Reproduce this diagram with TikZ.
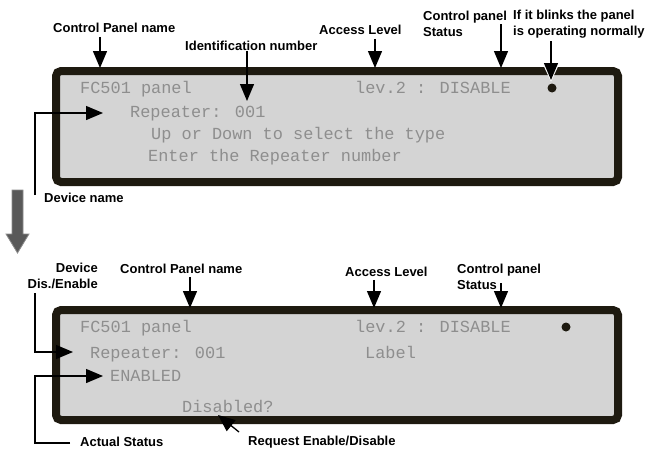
\documentclass[tikz,border=0pt]{standalone}
\usepackage{fontspec}
\setmainfont{Liberation Sans}
\newfontfamily\lcdfont{Liberation Mono}
\usetikzlibrary{arrows.meta}

\definecolor{frame}{HTML}{1E1A10}
\definecolor{screen}{HTML}{D4D4D4}
\definecolor{lcdtxt}{HTML}{8E8E8E}

\tikzset{
  lbl/.style={font=\fontsize{13}{16}\selectfont\bfseries, inner sep=0pt, anchor=west, align=left},
  lcd/.style={font=\lcdfont\fontsize{16.9}{18}\selectfont, text=lcdtxt, inner sep=0pt, anchor=base west},
  callout/.style={line width=1.3pt, -{Triangle[width=14pt,length=17pt]}},
  screenbox/.style={line width=8pt, rounded corners=5pt, draw=frame, fill=screen},
}

\begin{document}
\begin{tikzpicture}[x=1pt,y=-1pt]
    \useasboundingbox (0,0) rectangle (650,450);

    % Premier ecran
    \draw[screenbox] (56,71) rectangle (618,182);
    \node[lcd] (n1) at (80,93.5) {FC501 panel};
    \node[lcd] (lv1) at (355,93.5) {lev.2 : DISABLE};
    \node[lcd] (rp1) at (130,117.5) {Repeater: 001};
    \node[lcd] (up1) at (151,139.5) {Up or Down to select the type};
    \node[lcd] (en1) at (148,161.5) {Enter the Repeater number};
    \fill[frame] (552,88) circle (4.5);

    % Legendes du premier ecran
    \node[lbl] (cpn) at (53,28) {Control Panel name};
    \node[lbl] (idn) at (185,46) {Identification number};
    \node[lbl] (acc) at (319,30) {Access Level};
    \node[lbl] (cps) at (423,24) {Control panel\\Status};
    \node[lbl] (blk) at (513,24) {If it blinks the panel\\is operating normally};
    \node[lbl] (dev) at (44,198) {Device name};

    \coordinate (t1) at (100,68);
    \coordinate (t2) at (247,101);
    \coordinate (t3) at (375,68);
    \coordinate (t4) at (501,68);
    \coordinate (t5) at (551,80);
    \coordinate (t6) at (103,113);
    \coordinate (d0) at (35,195);

    \draw[callout, shorten <=4pt] (cpn.south -| t1) -- (t1);
    \draw[callout] (idn.south -| t2) -- (t2);
    \draw[callout, shorten <=4pt] (acc.south -| t3) -- (t3);
    \draw[callout] (cps.center -| t4) -- (t4);
    \draw[white, line width=4pt, -{Triangle[width=18pt,length=21pt]}, shorten <=3pt] (blk.south -| t5) -- ([yshift=-2pt]t5);
    \draw[callout, shorten <=3pt] (blk.south -| t5) -- (t5);
    \draw[callout] (d0) |- (t6);

    % Grosse fleche grise
    \filldraw[fill=black!65, draw=black!45, line width=0.8pt]
      (12,190) -- (23,190) -- (23,234) -- (29,234) -- (17.5,253) -- (6,234) -- (12,234) -- cycle;

    % Second ecran
    \draw[screenbox] (56,310) rectangle (618,420);
    \node[lcd] (n2) at (80,332.5) {FC501 panel};
    \node[lcd] (lv2) at (355,332.5) {lev.2 : DISABLE};
    \node[lcd] (rp2) at (90,358.5) {Repeater: 001};
    \node[lcd] (lb2) at (365,358.5) {Label};
    \node[lcd] (st2) at (110,381.5) {ENABLED};
    \node[lcd] (ds2) at (182,412.5) {Disabled?};
    \fill[frame] (566,327) circle (4.5);

    % Legendes du second ecran
    \node[lbl, anchor=east, align=right] (dde) at (98,276) {Device\\Dis./Enable};
    \node[lbl] (cpn2) at (120,269) {Control Panel name};
    \node[lbl] (acc2) at (345,272) {Access Level};
    \node[lbl] (cps2) at (457,277) {Control panel\\Status};
    \node[lbl] (act) at (80,442) {Actual Status};
    \node[lbl] (req) at (248,442) {Request Enable/Disable};

    \coordinate (u1) at (190,308);
    \coordinate (u2) at (374,308);
    \coordinate (u3) at (501,308);
    \coordinate (u4) at (73,352);
    \coordinate (u5) at (103,376);
    \coordinate (u6) at (218,415);
    \coordinate (e0) at (35,293);
    \coordinate (a0) at (70,443);
    \coordinate (a1) at (35,376);
    \coordinate (r0) at (239,432);

    \draw[callout, shorten <=3pt] (cpn2.south -| u1) -- (u1);
    \draw[callout, shorten <=3pt] (acc2.south -| u2) -- (u2);
    \draw[callout] (cps2.center -| u3) ++(0,6) -- (u3);
    \draw[callout] (e0) |- (u4);
    \draw[callout] (a0) -| (a1) -- (u5);
    \draw[callout] (r0) -- (u6);

\end{tikzpicture}
\end{document}
